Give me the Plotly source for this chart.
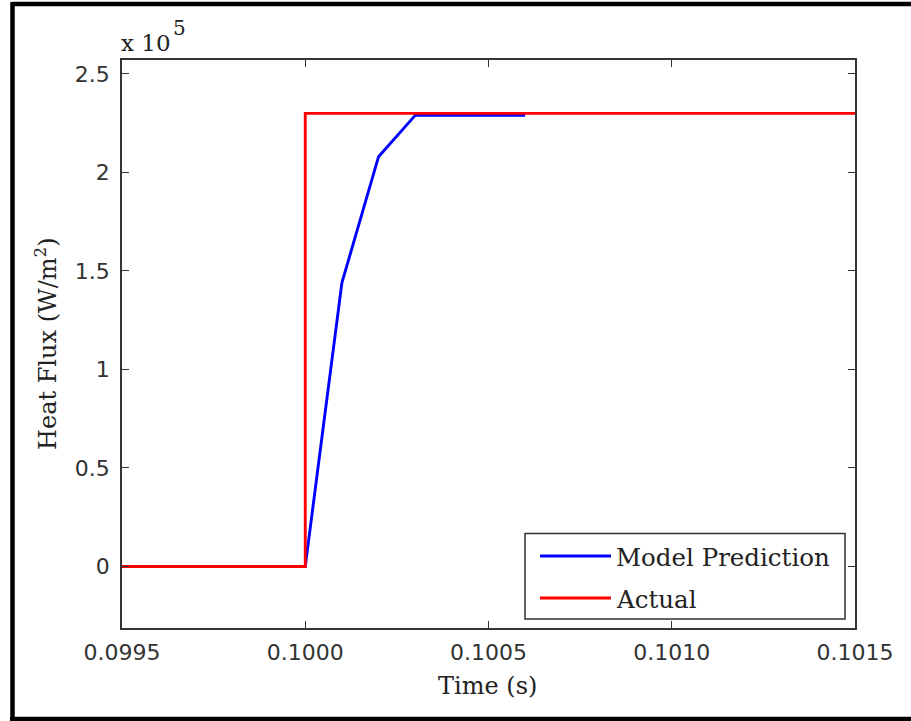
import plotly.graph_objects as go

# ---- data ----
model_time = [0.0995, 0.0996, 0.0997, 0.0998, 0.0999, 0.1000, 0.1001, 0.1002, 0.1003, 0.1004, 0.1005, 0.1006]
model_flux = [0, 0, 0, 0, 0, 0, 144000, 208000, 229000, 229000, 229000, 229000]
actual_time = [0.0995, 0.1000, 0.1000, 0.1015]
actual_flux = [0, 0, 230000, 230000]
x_ticks = [0.0995, 0.1000, 0.1005, 0.1010, 0.1015]
x_tick_labels = ["0.0995", "0.1000", "0.1005", "0.1010", "0.1015"]
y_ticks = [0, 50000, 100000, 150000, 200000, 250000]
y_tick_labels = ["0", "0.5", "1", "1.5", "2", "2.5"]
series_names = ["Model Prediction", "Actual"]
series_colors = ["#0000FF", "#FF0000"]

W, H = 911, 721
L, R, T, B = 122, 56, 60, 93
PW, PH = W - L - R, H - T - B


def px(xp):
    return (xp - L) / PW


def py(yp):
    return (H - B - yp) / PH


serif = "DejaVu Serif"
sans = "DejaVu Sans"

fig = go.Figure()
fig.add_trace(go.Scatter(x=model_time, y=model_flux, mode="lines", name=series_names[0],
                         line=dict(color=series_colors[0], width=2.9), showlegend=False))
fig.add_trace(go.Scatter(x=actual_time, y=actual_flux, mode="lines", name=series_names[1],
                         line=dict(color=series_colors[1], width=2.9), showlegend=False))

axis_common = dict(showline=True, linecolor="#333333", linewidth=1.5, mirror="ticks",
                   ticks="inside", ticklen=7, tickcolor="#333333", tickwidth=1.2,
                   showgrid=False, zeroline=False,
                   tickfont=dict(family=sans, size=22, color="#333333"))

fig.update_xaxes(range=[0.0995, 0.1015], tickvals=x_ticks, ticktext=x_tick_labels,
                 ticklabelstandoff=4, **axis_common)
fig.update_yaxes(range=[-31250, 257100], tickvals=y_ticks, ticktext=y_tick_labels,
                 ticklabelstandoff=6, **axis_common)

shapes = []
# outer frame (right side clipped off in the reference)
shapes.append(dict(type="line", xref="paper", yref="paper", x0=px(12.5), x1=px(911), y0=py(4), y1=py(4),
                   line=dict(color="black", width=4.5)))
shapes.append(dict(type="line", xref="paper", yref="paper", x0=px(12.5), x1=px(12.5), y0=py(2), y1=py(721),
                   line=dict(color="black", width=4.5)))
shapes.append(dict(type="line", xref="paper", yref="paper", x0=px(10), x1=px(911), y0=py(719), y1=py(719),
                   line=dict(color="black", width=4.5)))
# legend box
shapes.append(dict(type="rect", xref="paper", yref="paper", x0=px(525), x1=px(845), y0=py(619), y1=py(533.5),
                   line=dict(color="#333333", width=1.5), fillcolor="white", layer="above"))
legend_rows = [556, 598]
annotations = []
for name, color, yrow in zip(series_names, series_colors, legend_rows):
    shapes.append(dict(type="line", xref="paper", yref="paper", x0=px(540), x1=px(611), y0=py(yrow), y1=py(yrow),
                       line=dict(color=color, width=2.9), layer="above"))
    annotations.append(dict(text=name, xref="paper", yref="paper", x=px(614), y=py(yrow + 1),
                            xanchor="left", yanchor="middle", showarrow=False,
                            font=dict(family=serif, size=24.5, color="#222222")))

annotations.append(dict(text="Time (s)", xref="paper", yref="paper", x=px(487), y=py(686),
                        xanchor="center", yanchor="middle", showarrow=False,
                        font=dict(family=serif, size=24, color="#222222")))
annotations.append(dict(text="Heat Flux (W/m<sup>2</sup>)", xref="paper", yref="paper", x=px(46), y=py(344),
                        xanchor="center", yanchor="middle", textangle=-90, showarrow=False,
                        font=dict(family=serif, size=24, color="#222222")))
# exponent label: "x 10" with a raised full-size "5"
annotations.append(dict(text="x 10", xref="paper", yref="paper", x=px(119), y=py(43),
                        xanchor="left", yanchor="middle", showarrow=False,
                        font=dict(family=serif, size=23, color="#222222")))
annotations.append(dict(text="5", xref="paper", yref="paper", x=px(171), y=py(28),
                        xanchor="left", yanchor="middle", showarrow=False,
                        font=dict(family=serif, size=20, color="#222222")))

fig.update_layout(width=W, height=H, margin=dict(l=L, r=R, t=T, b=B),
                  paper_bgcolor="white", plot_bgcolor="white",
                  shapes=shapes, annotations=annotations, showlegend=False)

fig.write_html("out.html", config={"displayModeBar": False},
               post_script="document.body.style.margin='0';document.body.style.padding='0';"
                           "document.body.style.overflow='hidden';")
